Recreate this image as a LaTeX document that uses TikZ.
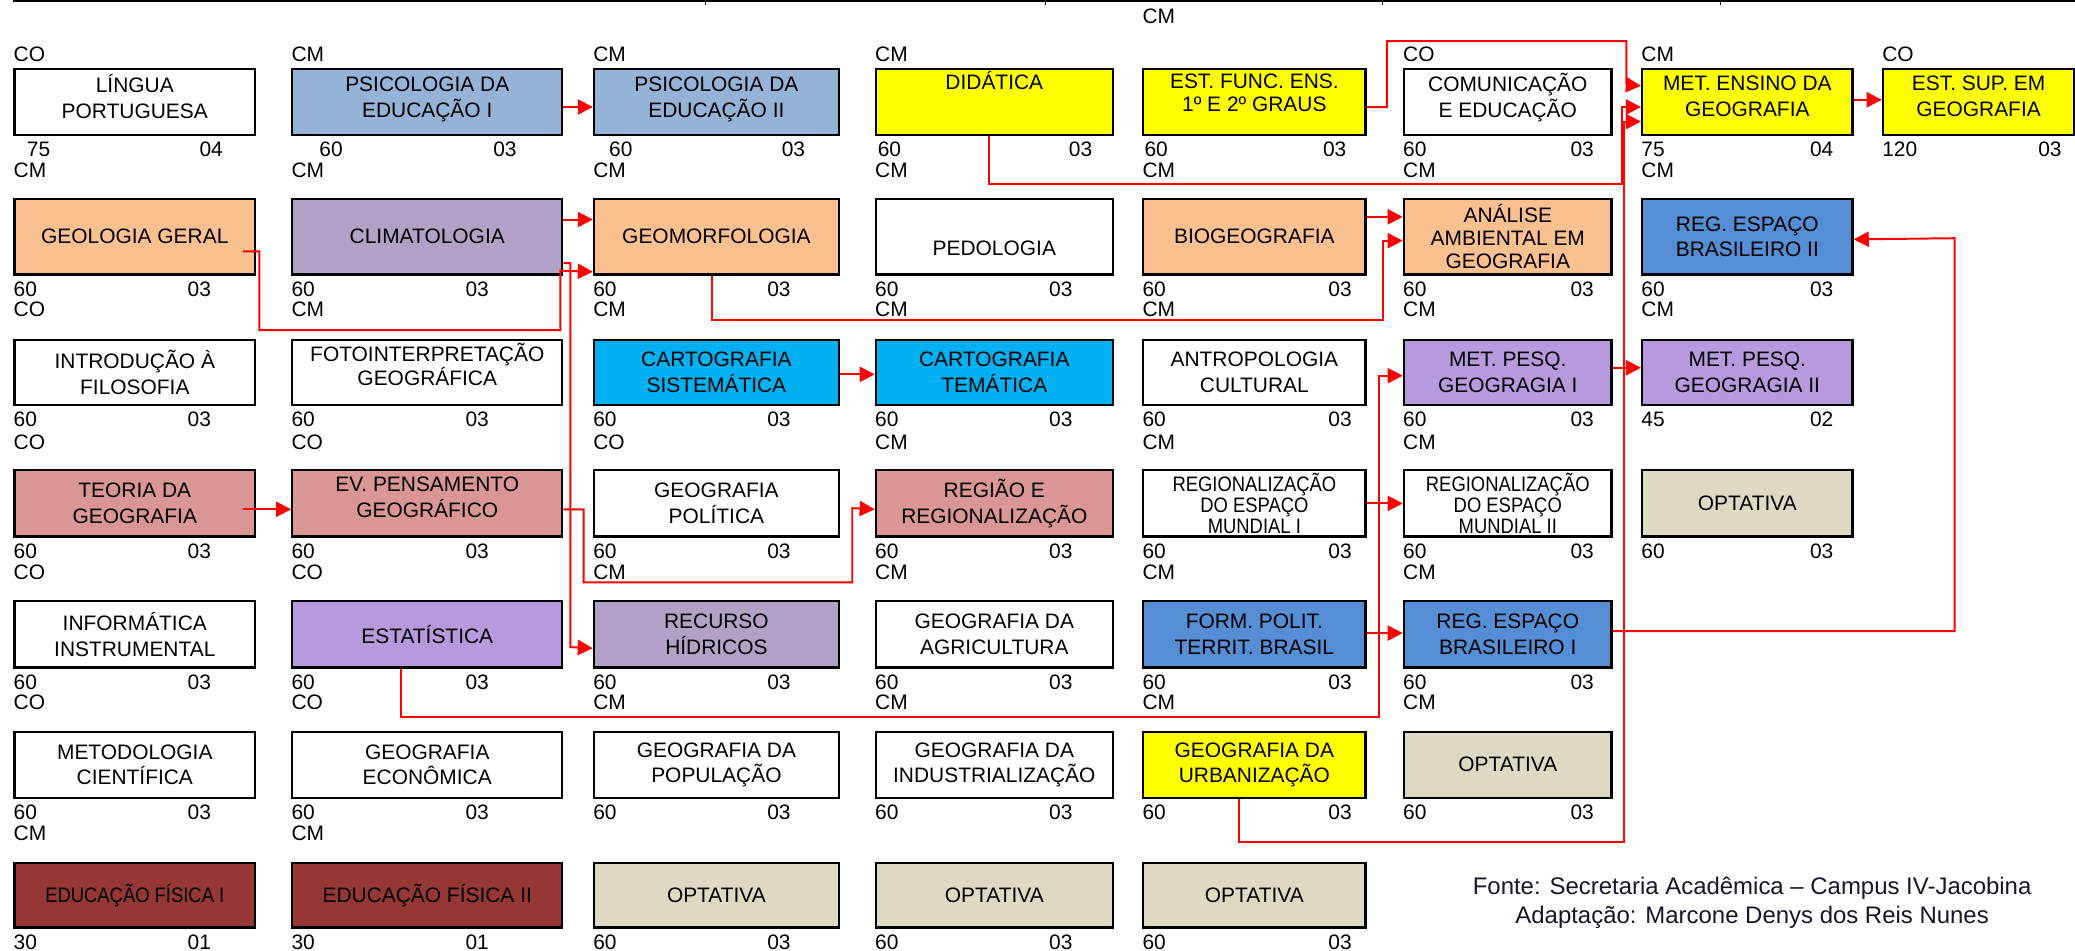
\documentclass[tikz,border=0pt]{standalone}
\usepackage{fontspec}
\setmainfont{Liberation Sans}
\newfontfamily\narrowfont{Liberation Sans}[FakeStretch=0.88]
\usetikzlibrary{arrows.meta, calc}
\definecolor{psico}{RGB}{149, 179, 215}
\definecolor{laranja}{RGB}{250, 192, 144}
\definecolor{lilas}{RGB}{178, 161, 199}
\definecolor{violeta}{RGB}{183, 154, 221}
\definecolor{amarelo}{RGB}{255, 255, 0}
\definecolor{ciano}{RGB}{0, 176, 240}
\definecolor{rosa}{RGB}{217, 150, 148}
\definecolor{azul}{RGB}{85, 142, 213}
\definecolor{bege}{RGB}{221, 217, 195}
\definecolor{vinho}{RGB}{149, 55, 53}
\definecolor{corfonte}{RGB}{25, 20, 40}

\tikzset{
    disc/.style={draw, line width=1pt, align=center, inner sep=0pt, anchor=north west,
        font=\fontsize{9}{11}\selectfont},
    apertado/.style={font=\fontsize{9}{10}\selectfont},
    txt/.style={inner sep=0pt, font=\fontsize{9}{10}\selectfont},
    seta/.style={draw=red, line width=0.85pt, -{Triangle[length=6.5pt, width=6.5pt]}},
    w1/.style={minimum width=3.64cm}, w2/.style={minimum width=4.08cm},
    w3/.style={minimum width=3.70cm}, w4/.style={minimum width=3.58cm},
    w5/.style={minimum width=3.36cm}, w6/.style={minimum width=3.14cm},
    w7/.style={minimum width=3.18cm}, w8/.style={minimum width=2.89cm},
    h1/.style={minimum height=1.0cm}, h2/.style={minimum height=1.14cm},
    h3/.style={minimum height=0.98cm}
}
% carga horaria (esquerda) e creditos (direita) sob a disciplina
\newcommand{\cargas}[5]{%
    \node[txt, anchor=west] (#1-h) at ($(#1.south west)+(#2,10)$) {#3};
    \node[txt, anchor=east] (#1-c) at ($(#1.south east)+(-#5,10)$) {#4};}
% CO / CM acima da disciplina
\newcommand{\turno}[3][21]{%
    \node[txt, anchor=west] (#2-t) at ($(#2.north west)+(0,-#1)$) {#3};}

\begin{document}
\begin{tikzpicture}[x=0.02cm, y=-0.02cm]
    \useasboundingbox (0,0) rectangle (1568,718);

    % Linha do topo
    \draw[line width=0.9pt] (10,1) -- (1568,1);
    \foreach \x in {533, 790, 1045, 1300}
        \draw[line width=0.4pt] (\x,1) -- (\x,3.5);

    % Semestre 1
    \node[disc, w1, h1] (lingua) at (10,51) {LÍNGUA\\PORTUGUESA\\[-6.4pt]\mbox{}};
    \node[disc, w2, h1, fill=psico] (psicoI) at (220,51) {PSICOLOGIA DA\\EDUCAÇÃO I\\[-6.9pt]\mbox{}};
    \node[disc, w3, h1, fill=psico] (psicoII) at (448,51) {PSICOLOGIA DA\\EDUCAÇÃO II\\[-6.9pt]\mbox{}};
    \node[disc, w4, h1, fill=amarelo] (didatica) at (661,51) {DIDÁTICA\\[7pt]\mbox{}};
    \node[disc, apertado, w5, h1, fill=amarelo] (estfunc) at (863,51) {EST. FUNC. ENS.\\1º E 2º GRAUS\\[-2.5pt]\mbox{}};
    \node[disc, w6, h1] (comunic) at (1060,51) {COMUNICAÇÃO\\E EDUCAÇÃO\\[-5.6pt]\mbox{}};
    \node[disc, w7, h1, fill=amarelo] (metensino) at (1240,51) {MET. ENSINO DA\\GEOGRAFIA\\[-6.4pt]\mbox{}};
    \node[disc, w8, h1, fill=amarelo] (estsup) at (1422,51) {EST. SUP. EM\\GEOGRAFIA\\[-6.4pt]\mbox{}};

    % Semestre 2
    \node[disc, w1, h2, fill=laranja] (geologia) at (10,149.5) {GEOLOGIA GERAL};
    \node[disc, w2, h2, fill=lilas] (climato) at (220,149.5) {CLIMATOLOGIA};
    \node[disc, w3, h2, fill=laranja] (geomorf) at (448,149.5) {GEOMORFOLOGIA};
    \node[disc, w4, h2] (pedologia) at (661,149.5) {\mbox{}\\[5.6pt]PEDOLOGIA};
    \node[disc, w5, h2, fill=laranja] (biogeo) at (863,149.5) {BIOGEOGRAFIA};
    \node[disc, apertado, w6, h2, fill=laranja] (analise) at (1060,149.5) {ANÁLISE\\AMBIENTAL EM\\GEOGRAFIA};
    \node[disc, w7, h2, fill=azul] (regbrII) at (1240,149.5) {REG. ESPAÇO\\BRASILEIRO II};

    % Semestre 3
    \node[disc, w1, h3] (filosofia) at (10,256) {INTRODUÇÃO À\\FILOSOFIA};
    \node[disc, apertado, w2, h3] (fotoint) at (220,256) {FOTOINTERPRETAÇÃO\\GEOGRÁFICA\\[-3pt]\mbox{}};
    \node[disc, w3, h3, fill=ciano] (cartosis) at (448,256) {CARTOGRAFIA\\SISTEMÁTICA};
    \node[disc, w4, h3, fill=ciano] (cartotem) at (661,256) {CARTOGRAFIA\\TEMÁTICA};
    \node[disc, w5, h3] (antropo) at (863,256) {ANTROPOLOGIA\\CULTURAL};
    \node[disc, w6, h3, fill=violeta] (metpesqI) at (1060,256) {MET. PESQ.\\GEOGRAGIA I};
    \node[disc, w7, h3, fill=violeta] (metpesqII) at (1240,256) {MET. PESQ.\\GEOGRAGIA II};

    % Semestre 4
    \node[disc, w1, h1, fill=rosa] (teoria) at (10,354.5) {TEORIA DA\\GEOGRAFIA};
    \node[disc, w2, h1, fill=rosa] (evpens) at (220,354.5) {EV. PENSAMENTO\\GEOGRÁFICO\\[-5.6pt]\mbox{}};
    \node[disc, w3, h1] (geopol) at (448,354.5) {GEOGRAFIA\\POLÍTICA};
    \node[disc, w4, h1, fill=rosa] (regiao) at (661,354.5) {REGIÃO E\\REGIONALIZAÇÃO};
    \node[disc, w5, h1, font=\narrowfont\fontsize{9}{9}\selectfont] (regmundI) at (863,354.5) {REGIONALIZAÇÃO\\DO ESPAÇO\\MUNDIAL I};
    \node[disc, w6, h1, font=\narrowfont\fontsize{9}{9}\selectfont] (regmundII) at (1060,354.5) {REGIONALIZAÇÃO\\DO ESPAÇO\\MUNDIAL II};
    \node[disc, w7, h1, fill=bege] (optA) at (1240,354.5) {OPTATIVA};

    % Semestre 5
    \node[disc, w1, h1] (informatica) at (10,453.5) {INFORMÁTICA\\INSTRUMENTAL};
    \node[disc, w2, h1, fill=violeta] (estatistica) at (220,453.5) {ESTATÍSTICA};
    \node[disc, w3, h1, fill=lilas] (recursos) at (448,453.5) {RECURSO\\HÍDRICOS};
    \node[disc, w4, h1] (geoagri) at (661,453.5) {GEOGRAFIA DA\\AGRICULTURA};
    \node[disc, w5, h1, fill=azul] (formpolit) at (863,453.5) {FORM. POLIT.\\TERRIT. BRASIL};
    \node[disc, w6, h1, fill=azul] (regbrI) at (1060,453.5) {REG. ESPAÇO\\BRASILEIRO I};

    % Semestre 6
    \node[disc, w1, h1] (metodologia) at (10,552) {METODOLOGIA\\CIENTÍFICA};
    \node[disc, w2, h1] (geoecon) at (220,552) {GEOGRAFIA\\ECONÔMICA};
    \node[disc, w3, h1] (geopop) at (448,552) {GEOGRAFIA DA\\POPULAÇÃO};
    \node[disc, w4, h1] (geoind) at (661,552) {GEOGRAFIA DA\\INDUSTRIALIZAÇÃO};
    \node[disc, w5, h1, fill=amarelo] (geourb) at (863,552) {GEOGRAFIA DA\\URBANIZAÇÃO};
    \node[disc, w6, h1, fill=bege] (optB) at (1060,552) {OPTATIVA};

    % Semestre 7
    \node[disc, w1, h3, fill=vinho, font=\narrowfont\fontsize{9}{10}\selectfont] (edfisI) at (10,651) {EDUCAÇÃO FÍSICA I};
    \node[disc, w2, h3, fill=vinho] (edfisII) at (220,651) {EDUCAÇÃO FÍSICA II};
    \node[disc, w3, h3, fill=bege] (optC) at (448,651) {OPTATIVA};
    \node[disc, w4, h3, fill=bege] (optD) at (661,651) {OPTATIVA};
    \node[disc, w5, h3, fill=bege] (optE) at (863,651) {OPTATIVA};

    % Carga horaria e creditos
    \cargas{lingua}{10}{75}{04}{25}
    \cargas{psicoI}{21}{60}{03}{35}
    \cargas{psicoII}{12}{60}{03}{26}
    \cargas{didatica}{2}{60}{03}{16}
    \cargas{estfunc}{1.5}{60}{03}{15}
    \cargas{comunic}{0}{60}{03}{14}
    \cargas{metensino}{0}{75}{04}{15}
    \cargas{estsup}{0}{120}{03}{10}
    \cargas{geologia}{0}{60}{03}{34}
    \cargas{climato}{0}{60}{03}{56}
    \cargas{geomorf}{0}{60}{03}{37}
    \cargas{pedologia}{0}{60}{03}{31}
    \cargas{biogeo}{0}{60}{03}{11}
    \cargas{analise}{0}{60}{03}{14}
    \cargas{regbrII}{0}{60}{03}{15}
    \cargas{filosofia}{0}{60}{03}{34}
    \cargas{fotoint}{0}{60}{03}{56}
    \cargas{cartosis}{0}{60}{03}{37}
    \cargas{cartotem}{0}{60}{03}{31}
    \cargas{antropo}{0}{60}{03}{11}
    \cargas{metpesqI}{0}{60}{03}{14}
    \cargas{metpesqII}{0}{45}{02}{15}
    \cargas{teoria}{0}{60}{03}{34}
    \cargas{evpens}{0}{60}{03}{56}
    \cargas{geopol}{0}{60}{03}{37}
    \cargas{regiao}{0}{60}{03}{31}
    \cargas{regmundI}{0}{60}{03}{11}
    \cargas{regmundII}{0}{60}{03}{14}
    \cargas{optA}{0}{60}{03}{15}
    \cargas{informatica}{0}{60}{03}{34}
    \cargas{estatistica}{0}{60}{03}{56}
    \cargas{recursos}{0}{60}{03}{37}
    \cargas{geoagri}{0}{60}{03}{31}
    \cargas{formpolit}{0}{60}{03}{11}
    \cargas{regbrI}{0}{60}{03}{14}
    \cargas{metodologia}{0}{60}{03}{34}
    \cargas{geoecon}{0}{60}{03}{56}
    \cargas{geopop}{0}{60}{03}{37}
    \cargas{geoind}{0}{60}{03}{31}
    \cargas{geourb}{0}{60}{03}{11}
    \cargas{optB}{0}{60}{03}{14}
    \cargas{edfisI}{0}{30}{01}{34}
    \cargas{edfisII}{0}{30}{01}{56}
    \cargas{optC}{0}{60}{03}{37}
    \cargas{optD}{0}{60}{03}{31}
    \cargas{optE}{0}{60}{03}{11}

    % CO / CM
    \turno[10]{lingua}{CO}
    \turno[10]{psicoI}{CM}
    \turno[10]{psicoII}{CM}
    \turno[10]{didatica}{CM}
    \turno[39]{estfunc}{CM}
    \turno[10]{comunic}{CO}
    \turno[10]{metensino}{CM}
    \turno[10]{estsup}{CO}
    \turno{geologia}{CM}
    \turno{climato}{CM}
    \turno{geomorf}{CM}
    \turno{pedologia}{CM}
    \turno{biogeo}{CM}
    \turno{analise}{CM}
    \turno{regbrII}{CM}
    \turno[22]{filosofia}{CO}
    \turno[22]{fotoint}{CM}
    \turno[22]{cartosis}{CM}
    \turno[22]{cartotem}{CM}
    \turno[22]{antropo}{CM}
    \turno[22]{metpesqI}{CM}
    \turno[22]{metpesqII}{CM}
    \turno[20]{teoria}{CO}
    \turno[20]{evpens}{CO}
    \turno[20]{geopol}{CO}
    \turno[20]{regiao}{CM}
    \turno[20]{regmundI}{CM}
    \turno[20]{regmundII}{CM}
    \turno{informatica}{CO}
    \turno{estatistica}{CO}
    \turno{recursos}{CM}
    \turno{geoagri}{CM}
    \turno{formpolit}{CM}
    \turno{regbrI}{CM}
    \turno{metodologia}{CO}
    \turno{geoecon}{CO}
    \turno{geopop}{CM}
    \turno{geoind}{CM}
    \turno{geourb}{CM}
    \turno{optB}{CM}
    \turno{edfisI}{CM}
    \turno{edfisII}{CM}

    % Pre-requisitos
    \draw[seta] ($(psicoI.east)+(0,4)$) -- ($(psicoII.west)+(0,4)$);
    \draw[seta] ($(estfunc.east)+(0,4)$) -| (1048,31) -| (1229,64) -- ($(metensino.west)+(0,-12)$);
    \draw[seta] ($(didatica.south)+(-4,0)$) |- (1226,139) |- ($(metensino.west)+(0,4)$);
    \draw[seta] ($(geourb.south)+(-11.5,0)$) |- (1227,636) |- ($(metensino.west)+(0,15)$);
    \draw[seta] ($(metensino.east)+(0,-1.5)$) -- ($(estsup.west)+(0,-1.5)$);
    \draw[seta] ($(climato.east)+(0,-13)$) -- ($(geomorf.west)+(0,-13)$);
    \draw[seta] ($(geologia.east)+(-10,11)$) -| (196,249.5) -| (423.5,204.5) -- ($(geomorf.west)+(0,26.5)$);
    \draw[seta] ($(climato.east)+(0,20)$) -| (431,489) -- ($(recursos.west)+(0,10.5)$);
    \draw[seta] ($(teoria.east)+(-10,4.5)$) -- ($(evpens.west)+(0,4.5)$);
    \draw[seta] ($(evpens.east)+(0,4.5)$) -| (441,440) -| (644,384) -- ($(regiao.west)+(0,4.5)$);
    \draw[seta] ($(cartosis.east)+(0,1.5)$) -- ($(cartotem.west)+(0,1.5)$);
    \draw[seta] ($(geomorf.south)+(-3,0)$) |- (1045,242) |- ($(analise.west)+(0,3)$);
    \draw[seta] ($(biogeo.east)+(0,-15)$) -- ($(analise.west)+(0,-15)$);
    \draw[seta] ($(estatistica.south)+(-19.5,0)$) |- (1042,542) |- ($(metpesqI.west)+(0,2.5)$);
    \draw[seta] ($(metpesqI.east)+(0,-3.5)$) -- ($(metpesqII.west)+(0,-3.5)$);
    \draw[seta] (regmundI.east) -- (regmundII.west);
    \draw[seta] ($(formpolit.east)+(0,-1)$) -- ($(regbrI.west)+(0,-1)$);
    \draw[seta] ($(regbrI.east)+(0,-2.5)$) -| (1477,180) -- ($(regbrII.east)+(0,2)$);

    % Fonte
    \node[inner sep=0pt, align=center, text=corfonte, font=\fontsize{10.3}{12.5}\selectfont] (fonte) at (1324,682)
        {Fonte: Secretaria Acadêmica – Campus IV-Jacobina\\Adaptação: Marcone Denys dos Reis Nunes};
\end{tikzpicture}
\end{document}
